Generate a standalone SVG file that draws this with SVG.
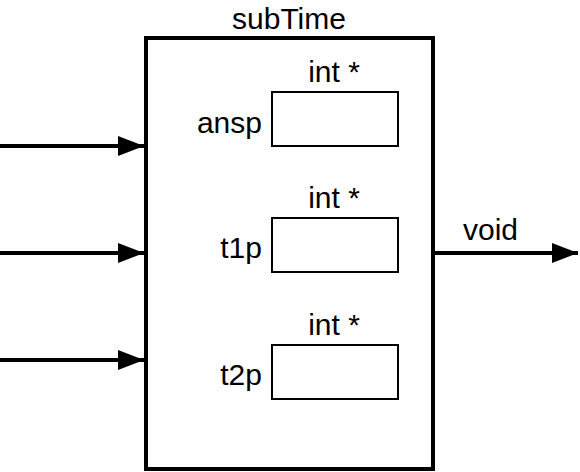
<svg xmlns="http://www.w3.org/2000/svg" width="580" height="472" viewBox="0 0 580 472">
<defs>
<marker id="ah" markerUnits="userSpaceOnUse" markerWidth="28" markerHeight="22" refX="26" refY="10" orient="auto">
<path d="M0,0 L26,10 L0,20 Z" fill="#000"/>
</marker>
</defs>
<style>
text{font-family:"Liberation Sans",Arial,sans-serif;fill:#000;font-size:30px}
.main{fill:#fff;stroke:#000;stroke-width:4}
.slot{fill:#fff;stroke:#000;stroke-width:2}
.conn{stroke:#000;stroke-width:4;fill:none;marker-end:url(#ah)}
</style>
<rect width="580" height="472" fill="#fff"/>
<g id="subTime">
<rect class="main" x="146" y="38" width="287" height="431"/>
<text x="289" y="29" text-anchor="middle">subTime</text>
</g>
<g id="ansp">
<rect class="slot" x="272" y="92" width="126" height="54"/>
<text x="334" y="82" text-anchor="middle">int *</text>
<text x="262" y="133" text-anchor="end">ansp</text>
</g>
<g id="t1p">
<rect class="slot" x="272" y="218" width="126" height="54"/>
<text x="334" y="208" text-anchor="middle">int *</text>
<text x="262" y="258" text-anchor="end">t1p</text>
</g>
<g id="t2p">
<rect class="slot" x="272" y="345" width="126" height="54"/>
<text x="334" y="335" text-anchor="middle">int *</text>
<text x="262" y="385" text-anchor="end">t2p</text>
</g>
<g id="connectors">
<line class="conn" x1="0" y1="146" x2="144" y2="146"/>
<line class="conn" x1="0" y1="253" x2="144" y2="253"/>
<line class="conn" x1="0" y1="360" x2="144" y2="360"/>
<line class="conn" x1="433" y1="253" x2="578" y2="253"/>
<text x="463" y="240">void</text>
</g>
</svg>
